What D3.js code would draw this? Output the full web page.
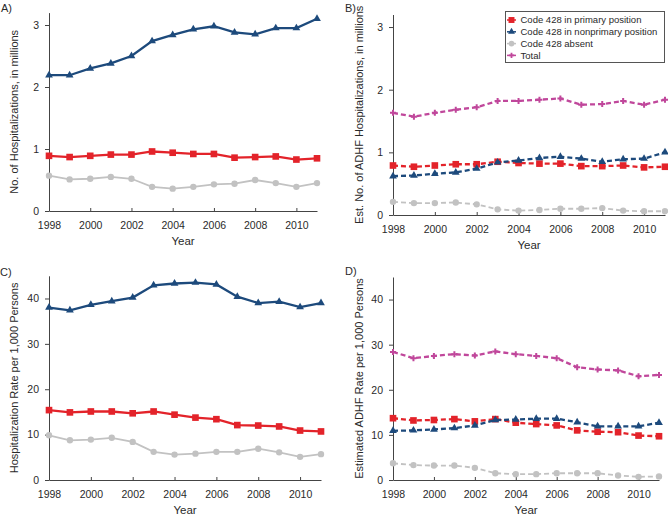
<!DOCTYPE html>
<html><head><meta charset="utf-8">
<script src="https://cdn.jsdelivr.net/npm/d3@7"></script>
<style>
body{margin:0;background:#fff;}
svg{display:block;font-family:"Liberation Sans",Arial,sans-serif;}
</style></head>
<body>
<svg id="c" width="668" height="516"></svg>
<script>
const years = [1998,1999,2000,2001,2002,2003,2004,2005,2006,2007,2008,2009,2010,2011];
const xTicks = [1998,2000,2002,2004,2006,2008,2010];
const yTicksCount = [0,1,2,3];
const yTicksRate = [0,10,20,30,40];
const seriesNames = ["Code 428 in primary position","Code 428 in nonprimary position","Code 428 absent","Total"];

// Panel A: No. of hospitalizations (millions)
const aPrimary    = [0.89,0.87,0.89,0.91,0.91,0.96,0.94,0.92,0.92,0.86,0.87,0.88,0.83,0.85];
const aNonprimary = [2.19,2.19,2.30,2.38,2.50,2.74,2.84,2.93,2.98,2.88,2.85,2.95,2.95,3.10];
const aAbsent     = [0.57,0.51,0.52,0.55,0.52,0.39,0.36,0.39,0.43,0.44,0.50,0.45,0.39,0.45];

// Panel B: Est. No. of ADHF hospitalizations (millions)
const bPrimary    = [0.79,0.77,0.79,0.81,0.81,0.85,0.83,0.82,0.82,0.78,0.78,0.79,0.76,0.77];
const bNonprimary = [0.62,0.63,0.66,0.68,0.74,0.84,0.87,0.91,0.93,0.90,0.85,0.89,0.90,1.00];
const bAbsent     = [0.21,0.19,0.19,0.20,0.17,0.09,0.07,0.08,0.10,0.10,0.11,0.07,0.06,0.06];
const bTotal      = [1.63,1.57,1.63,1.68,1.72,1.82,1.82,1.84,1.86,1.76,1.77,1.82,1.76,1.84];

// Panel C: Hospitalization rate per 1,000 persons
const cPrimary    = [15.4,14.9,15.1,15.1,14.7,15.1,14.4,13.75,13.4,12.1,12.0,11.8,10.9,10.7];
const cNonprimary = [38.0,37.4,38.6,39.4,40.2,42.9,43.3,43.5,43.1,40.4,39.0,39.3,38.1,39.0];
const cAbsent     = [9.85,8.75,8.9,9.3,8.4,6.2,5.6,5.8,6.2,6.2,6.9,6.1,5.1,5.7];

// Panel D: Estimated ADHF rate per 1,000 persons
const dPrimary    = [13.7,13.2,13.3,13.5,13.0,13.5,12.7,12.4,12.1,11.0,10.7,10.6,9.85,9.7];
const dNonprimary = [10.9,11.0,11.2,11.5,12.1,13.3,13.4,13.6,13.6,12.8,11.9,11.9,11.9,12.7];
const dAbsent     = [3.7,3.3,3.2,3.2,2.7,1.5,1.3,1.3,1.5,1.5,1.5,1.0,0.7,0.8];
const dTotal      = [28.4,27.0,27.5,27.9,27.6,28.5,27.9,27.5,27.0,25.0,24.5,24.3,23.0,23.3];

const COL = {primary:"#e3232a", nonprimary:"#1d4a7c", absent:"#c2c2c2", total:"#c0479b"};
const SYM = {primary:d3.symbolSquare, nonprimary:d3.symbolTriangle, absent:d3.symbolCircle, total:d3.symbolCross};
const SSZ = {primary:44, nonprimary:26, absent:32, total:20};

const svg = d3.select("#c");

function panel(o){
  const g = svg.append("g");
  const x = d3.scaleLinear().domain([1998,2011]).range(o.xr);
  const y = d3.scaleLinear().domain([0,o.ymax]).range(o.yr);
  const xa = g.append("g").attr("transform",`translate(0,${o.yr[0]})`)
    .call(d3.axisBottom(x).tickValues(xTicks).tickFormat(d3.format("d")).tickSize(-3).tickSizeOuter(0));
  const ya = g.append("g").attr("transform",`translate(${o.xr[0]},0)`)
    .call(d3.axisLeft(y).tickValues(o.yticks).tickFormat(d3.format("d")).tickSize(4).tickSizeOuter(0));
  [xa,ya].forEach(a=>{
    a.select(".domain").attr("stroke","#444").attr("stroke-width",1);
    a.selectAll(".tick line").attr("stroke","#444");
    a.selectAll("text").attr("fill","#2a2a2a").style("font-size","10.5px");
  });
  xa.selectAll("text").attr("y",11);
  ya.selectAll("text").attr("x",o.ylabGap);
  g.append("text").attr("x",(o.xr[0]+o.xr[1])/2).attr("y",o.yr[0]+34)
    .attr("text-anchor","middle").style("font-size","11.5px").attr("fill","#2a2a2a").text("Year");
  g.append("text").attr("transform",`translate(${o.ytx},${(o.yr[0]+o.yr[1])/2}) rotate(-90)`)
    .attr("text-anchor","middle").style("font-size","11px").attr("fill","#2a2a2a").text(o.ytitle);
  g.append("text").attr("x",o.lab[0]).attr("y",o.lab[1]).style("font-size","11px").attr("fill","#2a2a2a").text(o.label);
  o.series.forEach(s=>{
    const line = d3.line().x((d,i)=>x(years[i])).y(d=>y(d));
    g.append("path").datum(s.values).attr("d",line).attr("fill","none")
      .attr("stroke",COL[s.key]).attr("stroke-width",s.key==="absent"?1.8:2.3)
      .attr("stroke-dasharray",o.dashed?"5,3":null);
    g.selectAll(null).data(s.values).enter().append("path")
      .attr("transform",(d,i)=>`translate(${x(years[i])},${y(d)})`)
      .attr("d",d3.symbol().type(SYM[s.key]).size(SSZ[s.key]))
      .attr("fill",COL[s.key]);
  });
}

panel({xr:[49,317], yr:[211,12.6], ymax:3.2, yticks:yTicksCount, ylabGap:-10, ytx:18,
  ytitle:"No. of Hospitalizations, in millions", label:"A)", lab:[1,12], dashed:false,
  series:[{key:"absent",values:aAbsent},{key:"primary",values:aPrimary},{key:"nonprimary",values:aNonprimary}]});
panel({xr:[393,665], yr:[215,14.5], ymax:3.2, yticks:yTicksCount, ylabGap:-10, ytx:363,
  ytitle:"Est. No. of ADHF Hospitalizations, in millions", label:"B)", lab:[345,12], dashed:true,
  series:[{key:"absent",values:bAbsent},{key:"primary",values:bPrimary},{key:"nonprimary",values:bNonprimary},{key:"total",values:bTotal}]});
panel({xr:[49,321], yr:[480,275.8], ymax:45, yticks:yTicksRate, ylabGap:-10, ytx:18,
  ytitle:"Hospitalization Rate per 1,000 Persons", label:"C)", lab:[0,276], dashed:false,
  series:[{key:"absent",values:cAbsent},{key:"primary",values:cPrimary},{key:"nonprimary",values:cNonprimary}]});
panel({xr:[393,659], yr:[480,277], ymax:45, yticks:yTicksRate, ylabGap:-10, ytx:363,
  ytitle:"Estimated ADHF Rate per 1,000 Persons", label:"D)", lab:[345,275], dashed:true,
  series:[{key:"absent",values:dAbsent},{key:"primary",values:dPrimary},{key:"nonprimary",values:dNonprimary},{key:"total",values:dTotal}]});

// legend
const lg = svg.append("g");
lg.append("rect").attr("x",505.5).attr("y",11.5).attr("width",159).attr("height",51)
  .attr("fill","#fff").attr("stroke","#555").attr("stroke-width",1);
const keys = ["primary","nonprimary","absent","total"];
keys.forEach((k,i)=>{
  const yy = 20 + i*11.8;
  lg.append("line").attr("x1",507).attr("x2",516).attr("y1",yy).attr("y2",yy).attr("stroke",COL[k]).attr("stroke-width",1.5);
  lg.append("path").attr("transform",`translate(511.5,${yy})`)
    .attr("d",d3.symbol().type(SYM[k]).size(SSZ[k]*0.8)).attr("fill",COL[k]);
  lg.append("text").attr("x",520.5).attr("y",yy+3.4).style("font-size","9.5px").attr("fill","#2a2a2a").text(seriesNames[i]);
});
</script>
</body></html>
